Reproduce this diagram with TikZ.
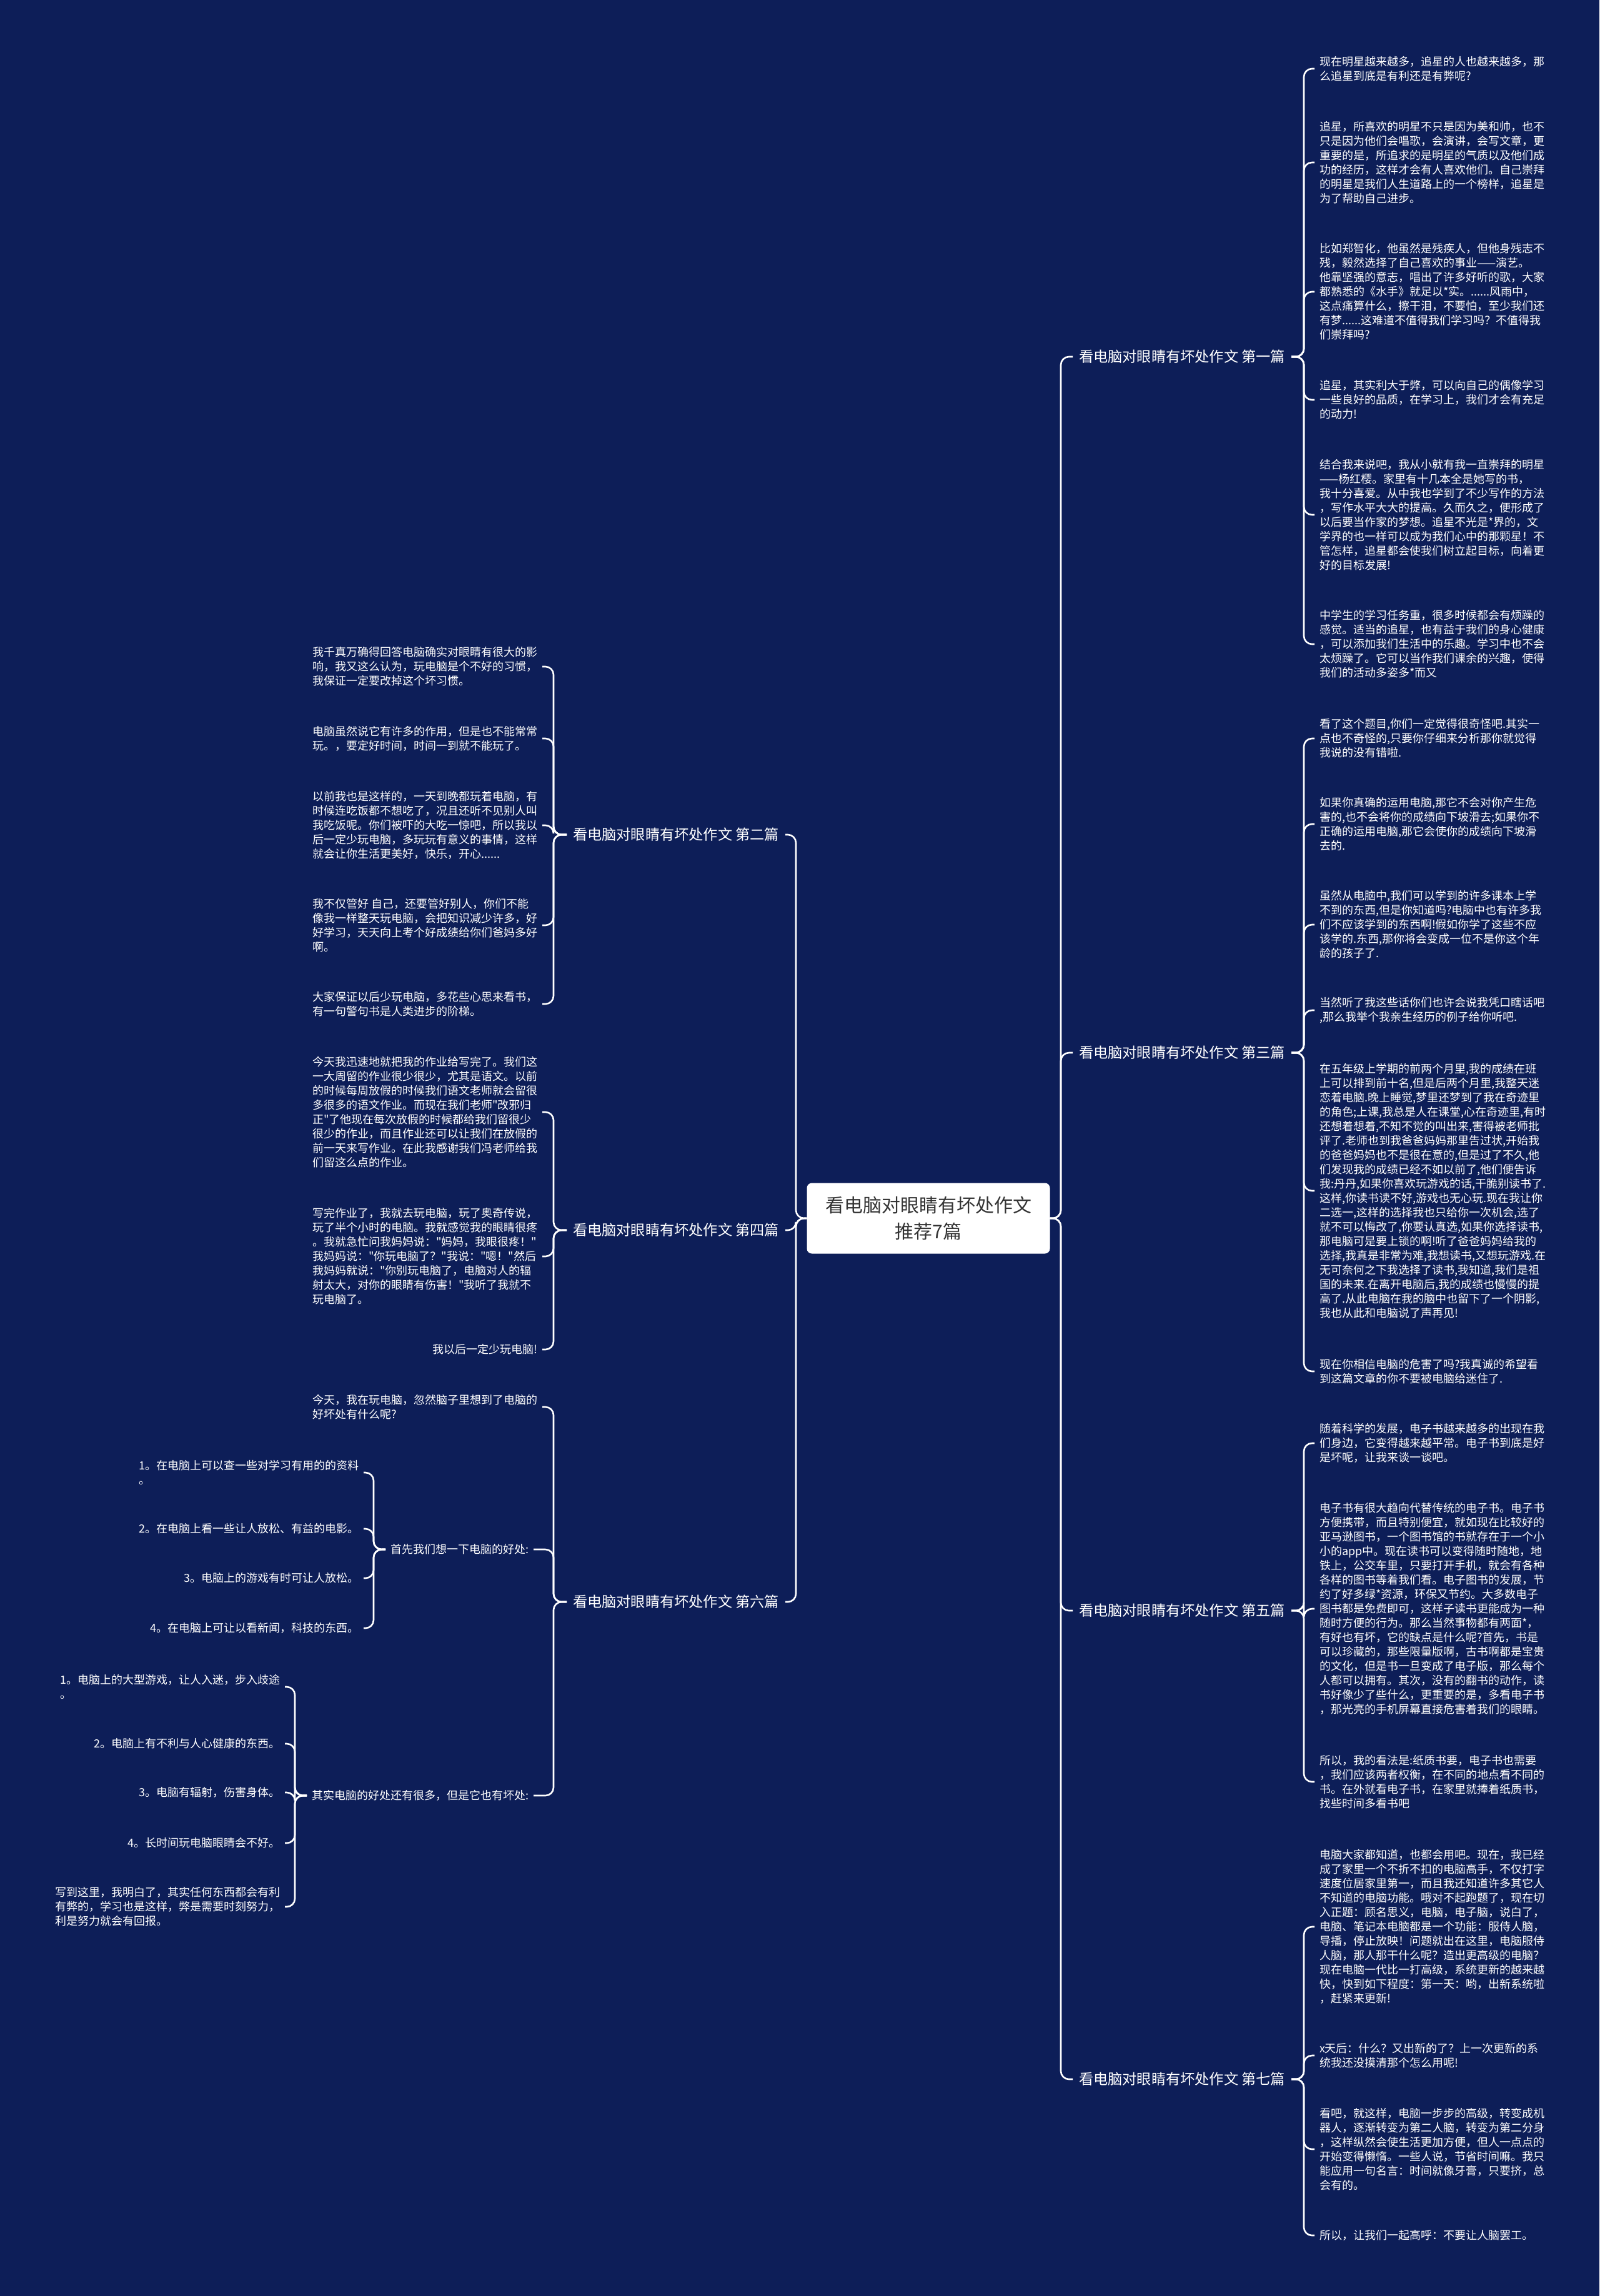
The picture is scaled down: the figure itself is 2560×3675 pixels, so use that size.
\documentclass[tikz,border=0pt]{standalone}
\usepackage{fontspec}
\setmainfont{Noto Sans CJK SC}[Ligatures=TeXOff]
\definecolor{bgc}{RGB}{13,30,88}
\definecolor{rootc}{RGB}{51,51,51}
\newcommand\lnk[3]{\draw[link] (#1) -- (#2 |- #1) -- (#2 |- #3) -- (#3);}
\tikzset{
  link/.style={draw=white, line width=2.6pt, rounded corners=13pt},
  leafR/.style={anchor=west, align=left, text=white, inner sep=0pt, outer xsep=8pt, font=\fontsize{18}{23}\selectfont},
  leafL/.style={anchor=east, align=left, text=white, inner sep=0pt, outer xsep=8pt, font=\fontsize{18}{23}\selectfont},
  branchR/.style={anchor=west, text=white, inner sep=0pt, outer xsep=10pt, font=\fontsize{23.2}{28}\selectfont},
  branchL/.style={anchor=east, text=white, inner sep=0pt, outer xsep=10pt, font=\fontsize{23.2}{28}\selectfont},
  rootbox/.style={fill=white, rounded corners=8pt, minimum width=389pt, minimum height=113pt, align=center, text=rootc, inner sep=0pt, font=\fontsize{30}{42}\selectfont}
}
\begin{document}
\begin{tikzpicture}[x=1pt,y=-1pt]
\fill[bgc] (0,0) rectangle (2560,3675);
\useasboundingbox (0,0) rectangle (2560,3675);
\coordinate (TR) at (1698,0);
\coordinate (TL) at (1274,0);
\coordinate (LR) at (2087,0);
\coordinate (LL) at (886,0);
\coordinate (S1) at (598,0);
\coordinate (S2) at (472,0);

\node[rootbox] (root) at (1486,1950) {看电脑对眼睛有坏处作文\\推荐7篇};

% right branches
\node[branchR] (b1) at (1717,571) {看电脑对眼睛有坏处作文 第一篇};
\node[branchR] (b3) at (1717,1685) {看电脑对眼睛有坏处作文 第三篇};
\node[branchR] (b5) at (1717,2578) {看电脑对眼睛有坏处作文 第五篇};
\node[branchR] (b7) at (1717,3328) {看电脑对眼睛有坏处作文 第七篇};
% left branches
\node[branchL] (b2) at (1257,1336) {看电脑对眼睛有坏处作文 第二篇};
\node[branchL] (b4) at (1257,1969) {看电脑对眼睛有坏处作文 第四篇};
\node[branchL] (b6) at (1257,2564) {看电脑对眼睛有坏处作文 第六篇};

\lnk{root.east}{TR}{b1.west}
\lnk{root.east}{TR}{b3.west}
\lnk{root.east}{TR}{b5.west}
\lnk{root.east}{TR}{b7.west}
\lnk{root.west}{TL}{b2.east}
\lnk{root.west}{TL}{b4.east}
\lnk{root.west}{TL}{b6.east}

% ---------- 第一篇
\node[leafR] (a11) at (2104,110) {现在明星越来越多，追星的人也越来越多，那\\么追星到底是有利还是有弊呢?};
\node[leafR] (a12) at (2104,260) {追星，所喜欢的明星不只是因为美和帅，也不\\只是因为他们会唱歌，会演讲，会写文章，更\\重要的是，所追求的是明星的气质以及他们成\\功的经历，这样才会有人喜欢他们。自己崇拜\\的明星是我们人生道路上的一个榜样，追星是\\为了帮助自己进步。};
\node[leafR] (a13) at (2104,467) {比如郑智化，他虽然是残疾人，但他身残志不\\残，毅然选择了自己喜欢的事业——演艺。\\他靠坚强的意志，唱出了许多好听的歌，大家\\都熟悉的《水手》就足以*实。......风雨中，\\这点痛算什么，擦干泪，不要怕，至少我们还\\有梦......这难道不值得我们学习吗？不值得我\\们崇拜吗?};
\node[leafR] (a14) at (2104,640) {追星，其实利大于弊，可以向自己的偶像学习\\一些良好的品质，在学习上，我们才会有充足\\的动力!};
\node[leafR] (a15) at (2104,824) {结合我来说吧，我从小就有我一直崇拜的明星\\——杨红樱。家里有十几本全是她写的书，\\我十分喜爱。从中我也学到了不少写作的方法\\，写作水平大大的提高。久而久之，便形成了\\以后要当作家的梦想。追星不光是*界的，文\\学界的也一样可以成为我们心中的那颗星！不\\管怎样，追星都会使我们树立起目标，向着更\\好的目标发展!};
\node[leafR] (a16) at (2104,1031) {中学生的学习任务重，很多时候都会有烦躁的\\感觉。适当的追星，也有益于我们的身心健康\\，可以添加我们生活中的乐趣。学习中也不会\\太烦躁了。它可以当作我们课余的兴趣，使得\\我们的活动多姿多*而又};
\foreach \n in {a11,a12,a13,a14,a15,a16}{\lnk{b1.east}{LR}{\n.west}}

% ---------- 第三篇
\node[leafR] (a31) at (2104,1182) {看了这个题目,你们一定觉得很奇怪吧.其实一\\点也不奇怪的,只要你仔细来分析那你就觉得\\我说的没有错啦.};
\node[leafR] (a32) at (2104,1319) {如果你真确的运用电脑,那它不会对你产生危\\害的,也不会将你的成绩向下坡滑去;如果你不\\正确的运用电脑,那它会使你的成绩向下坡滑\\去的.};
\node[leafR] (a33) at (2104,1480) {虽然从电脑中,我们可以学到的许多课本上学\\不到的东西,但是你知道吗?电脑中也有许多我\\们不应该学到的东西啊!假如你学了这些不应\\该学的.东西,那你将会变成一位不是你这个年\\龄的孩子了.};
\node[leafR] (a34) at (2104,1617) {当然听了我这些话你们也许会说我凭口瞎话吧\\,那么我举个我亲生经历的例子给你听吧.};
\node[leafR] (a35) at (2104,1906) {在五年级上学期的前两个月里,我的成绩在班\\上可以排到前十名,但是后两个月里,我整天迷\\恋着电脑.晚上睡觉,梦里还梦到了我在奇迹里\\的角色;上课,我总是人在课堂,心在奇迹里,有时\\还想着想着,不知不觉的叫出来,害得被老师批\\评了.老师也到我爸爸妈妈那里告过状,开始我\\的爸爸妈妈也不是很在意的,但是过了不久,他\\们发现我的成绩已经不如以前了,他们便告诉\\我:丹丹,如果你喜欢玩游戏的话,干脆别读书了.\\这样,你读书读不好,游戏也无心玩.现在我让你\\二选一,这样的选择我也只给你一次机会,选了\\就不可以悔改了,你要认真选,如果你选择读书,\\那电脑可是要上锁的啊!听了爸爸妈妈给我的\\选择,我真是非常为难,我想读书,又想玩游戏.在\\无可奈何之下我选择了读书,我知道,我们是祖\\国的未来.在离开电脑后,我的成绩也慢慢的提\\高了.从此电脑在我的脑中也留下了一个阴影,\\我也从此和电脑说了声再见!};
\node[leafR] (a36) at (2104,2195) {现在你相信电脑的危害了吗?我真诚的希望看\\到这篇文章的你不要被电脑给迷住了.};
\foreach \n in {a31,a32,a33,a34,a35,a36}{\lnk{b3.east}{LR}{\n.west}}

% ---------- 第五篇
\node[leafR] (a51) at (2104,2310) {随着科学的发展，电子书越来越多的出现在我\\们身边，它变得越来越平常。电子书到底是好\\是坏呢，让我来谈一谈吧。};
\node[leafR] (a52) at (2104,2575) {电子书有很大趋向代替传统的电子书。电子书\\方便携带，而且特别便宜，就如现在比较好的\\亚马逊图书，一个图书馆的书就存在于一个小\\小的app中。现在读书可以变得随时随地，地\\铁上，公交车里，只要打开手机，就会有各种\\各样的图书等着我们看。电子图书的发展，节\\约了好多绿*资源，环保又节约。大多数电子\\图书都是免费即可，这样子读书更能成为一种\\随时方便的行为。那么当然事物都有两面*，\\有好也有坏，它的缺点是什么呢?首先，书是\\可以珍藏的，那些限量版啊，古书啊都是宝贵\\的文化，但是书一旦变成了电子版，那么每个\\人都可以拥有。其次，没有的翻书的动作，读\\书好像少了些什么，更重要的是，多看电子书\\，那光亮的手机屏幕直接危害着我们的眼睛。};
\node[leafR] (a53) at (2104,2852) {所以，我的看法是:纸质书要，电子书也需要\\，我们应该两者权衡，在不同的地点看不同的\\书。在外就看电子书，在家里就捧着纸质书，\\找些时间多看书吧};
\foreach \n in {a51,a52,a53}{\lnk{b5.east}{LR}{\n.west}}

% ---------- 第七篇
\node[leafR] (a71) at (2104,3084) {电脑大家都知道，也都会用吧。现在，我已经\\成了家里一个不折不扣的电脑高手，不仅打字\\速度位居家里第一，而且我还知道许多其它人\\不知道的电脑功能。哦对不起跑题了，现在切\\入正题：顾名思义，电脑，电子脑，说白了，\\电脑、笔记本电脑都是一个功能：服侍人脑，\\导播，停止放映！问题就出在这里，电脑服侍\\人脑，那人那干什么呢？造出更高级的电脑？\\现在电脑一代比一打高级，系统更新的越来越\\快，快到如下程度：第一天：哟，出新系统啦\\，赶紧来更新!};
\node[leafR] (a72) at (2104,3290) {x天后：什么？又出新的了？上一次更新的系\\统我还没摸清那个怎么用呢!};
\node[leafR] (a73) at (2104,3440) {看吧，就这样，电脑一步步的高级，转变成机\\器人，逐渐转变为第二人脑，转变为第二分身\\，这样纵然会使生活更加方便，但人一点点的\\开始变得懒惰。一些人说，节省时间嘛。我只\\能应用一句名言：时间就像牙膏，只要挤，总\\会有的。};
\node[leafR] (a74) at (2104,3578) {所以，让我们一起高呼：不要让人脑罢工。};
\foreach \n in {a71,a72,a73,a74}{\lnk{b7.east}{LR}{\n.west}}

% ---------- 第二篇
\node[leafL] (a21) at (868,1067) {我千真万确得回答电脑确实对眼睛有很大的影\\响，我又这么认为，玩电脑是个不好的习惯，\\我保证一定要改掉这个坏习惯。};
\node[leafL] (a22) at (868,1182) {电脑虽然说它有许多的作用，但是也不能常常\\玩。，要定好时间，时间一到就不能玩了。};
\node[leafL] (a23) at (868,1321) {以前我也是这样的，一天到晚都玩着电脑，有\\时候连吃饭都不想吃了，况且还听不见别人叫\\我吃饭呢。你们被吓的大吃一惊吧，所以我以\\后一定少玩电脑，多玩玩有意义的事情，这样\\就会让你生活更美好，快乐，开心......};
\node[leafL] (a24) at (868,1481) {我不仅管好 自己，还要管好别人，你们不能\\像我一样整天玩电脑，会把知识减少许多，好\\好学习，天天向上考个好成绩给你们爸妈多好\\啊。};
\node[leafL] (a25) at (868,1607) {大家保证以后少玩电脑，多花些心思来看书，\\有一句警句书是人类进步的阶梯。};
\foreach \n in {a21,a22,a23,a24,a25}{\lnk{b2.west}{LL}{\n.east}}

% ---------- 第四篇
\node[leafL] (a41) at (868,1780) {今天我迅速地就把我的作业给写完了。我们这\\一大周留的作业很少很少，尤其是语文。以前\\的时候每周放假的时候我们语文老师就会留很\\多很多的语文作业。而现在我们老师"改邪归\\正"了他现在每次放假的时候都给我们留很少\\很少的作业，而且作业还可以让我们在放假的\\前一天来写作业。在此我感谢我们冯老师给我\\们留这么点的作业。};
\node[leafL] (a42) at (868,2011) {写完作业了，我就去玩电脑，玩了奥奇传说，\\玩了半个小时的电脑。我就感觉我的眼睛很疼\\。我就急忙问我妈妈说："妈妈，我眼很疼！"\\我妈妈说："你玩电脑了？"我说："嗯！"然后\\我妈妈就说："你别玩电脑了，电脑对人的辐\\射太大，对你的眼睛有伤害！"我听了我就不\\玩电脑了。};
\node[leafL] (a43) at (868,2160) {我以后一定少玩电脑!};
\foreach \n in {a41,a42,a43}{\lnk{b4.west}{LL}{\n.east}}

% ---------- 第六篇
\node[leafL] (c1) at (868,2252) {今天，我在玩电脑，忽然脑子里想到了电脑的\\好坏处有什么呢?};
\node[leafR] (c2) at (617,2480) {首先我们想一下电脑的好处:};
\node[leafR] (c3) at (491,2874) {其实电脑的好处还有很多，但是它也有坏处:};
\foreach \n in {c1,c2,c3}{\lnk{b6.west}{LL}{\n.east}}

\node[leafL] (d1) at (582,2357) {1。在电脑上可以查一些对学习有用的的资料\\。};
\node[leafL] (d2) at (582,2447) {2。在电脑上看一些让人放松、有益的电影。};
\node[leafL] (d3) at (582,2526) {3。电脑上的游戏有时可让人放松。};
\node[leafL] (d4) at (582,2606) {4。在电脑上可让以看新闻，科技的东西。};
\foreach \n in {d1,d2,d3,d4}{\lnk{c2.west}{S1}{\n.east}}

\node[leafL] (e1) at (456,2700) {1。电脑上的大型游戏，让人入迷，步入歧途\\。};
\node[leafL] (e2) at (456,2791) {2。电脑上有不利与人心健康的东西。};
\node[leafL] (e3) at (456,2869) {3。电脑有辐射，伤害身体。};
\node[leafL] (e4) at (456,2950) {4。长时间玩电脑眼睛会不好。};
\node[leafL] (e5) at (456,3052) {写到这里，我明白了，其实任何东西都会有利\\有弊的，学习也是这样，弊是需要时刻努力，\\利是努力就会有回报。};
\foreach \n in {e1,e2,e3,e4,e5}{\lnk{c3.west}{S2}{\n.east}}
\end{tikzpicture}
\end{document}
